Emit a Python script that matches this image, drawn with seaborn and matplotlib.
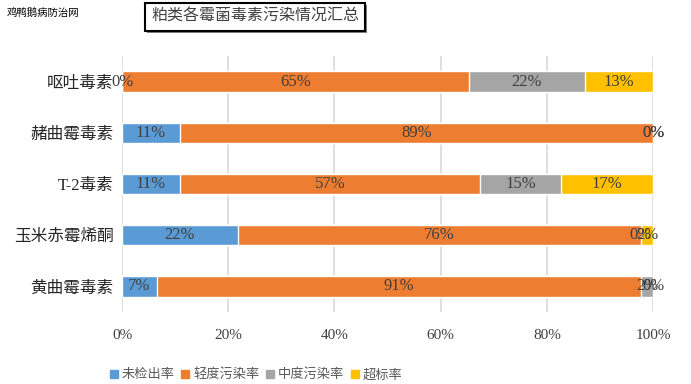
import numpy as np
import pandas as pd
import matplotlib
matplotlib.use("Agg")
import matplotlib.pyplot as plt
from matplotlib.patches import Patch, Rectangle
import seaborn as sns

# toxins, top to bottom
toxins = ["呕吐毒素", "赭曲霉毒素", "T-2毒素", "玉米赤霉烯酮", "黄曲霉毒素"]
series = ["未检出率", "轻度污染率", "中度污染率", "超标率"]
undetected = [0, 10.9, 10.9, 21.8, 6.6]
light = [65.3, 89.1, 56.6, 75.9, 91.1]
moderate = [21.8, 0, 15.2, 0, 2.3]
over_limit = [12.9, 0, 17.3, 2.3, 0]
colors = ["#5B9BD5", "#ED7D31", "#A5A5A5", "#FFC000"]
xticks = [0, 20, 40, 60, 80, 100]

sns.set_style("white")
plt.rcParams["font.family"] = ["Liberation Serif", "Noto Sans CJK SC", "DejaVu Sans"]

vals = np.array([undetected, light, moderate, over_limit])
cum = np.cumsum(vals, axis=0)

fig = plt.figure(figsize=(6.91, 3.84), dpi=100)
ax = fig.add_axes([0.1766, 0.1875, 0.7685, 0.6667])

# stacked bars: draw cumulative totals from the back
for i in range(3, -1, -1):
    df = pd.DataFrame({"toxin": toxins, "value": cum[i]})
    sns.barplot(data=df, x="value", y="toxin", color=colors[i], width=0.4,
                saturation=1, errorbar=None, ax=ax, zorder=2)

# data labels
for i in range(4):
    start = cum[i] - vals[i]
    for j in range(len(toxins)):
        ax.text(start[j] + vals[i][j] / 2, j, f"{vals[i][j]:.0f}%", ha="center", va="center",
                fontsize=12, color="#404040", zorder=3)

ax.set_xlim(0, 100)
ax.set_ylim(4.5, -0.5)
ax.set_xticks(xticks)
ax.set_xticklabels([f"{t}%" for t in xticks], fontsize=11, color="#404040")
ax.tick_params(axis="x", pad=12, length=0)
ax.tick_params(axis="y", pad=6, length=0)
ax.set_yticks(range(len(toxins)))
ax.set_yticklabels(toxins, fontsize=12, color="#262626")
ax.set_xlabel("")
ax.set_ylabel("")
ax.grid(axis="x", color="#D9D9D9", lw=1.2, zorder=0)
ax.set_axisbelow(True)
for s in ax.spines.values():
    s.set_visible(False)

handles = [Patch(color=c) for c in colors]
fig.legend(handles, series, loc="center", bbox_to_anchor=(256 / 691, 1 - 375 / 384), ncol=4,
           frameon=False, fontsize=9.5, handlelength=0.6, handleheight=0.6,
           handletextpad=0.3, columnspacing=0.5, labelcolor="#595959")

# title box with shadow
title = "粕类各霉菌毒素污染情况汇总"
t = fig.text(255 / 691, 1 - 17 / 384, title, ha="center", va="center", fontsize=11.5, color="#404040",
             bbox=dict(boxstyle="square,pad=0.4", fc="white", ec="black", lw=1.5), zorder=5)
fig.canvas.draw()
bb = t.get_bbox_patch().get_window_extent()
fig.patches.append(Rectangle((bb.x0 + 2, bb.y0 - 2), bb.width, bb.height, transform=None,
                             fc="#808080", ec="none", zorder=4))

fig.text(7 / 691, 1 - 13 / 384, "鸡鸭鹅病防治网", ha="left", va="center", fontsize=7.5,
         family=["Noto Sans CJK SC"], color="black")

fig.savefig("out.png", dpi=100)
